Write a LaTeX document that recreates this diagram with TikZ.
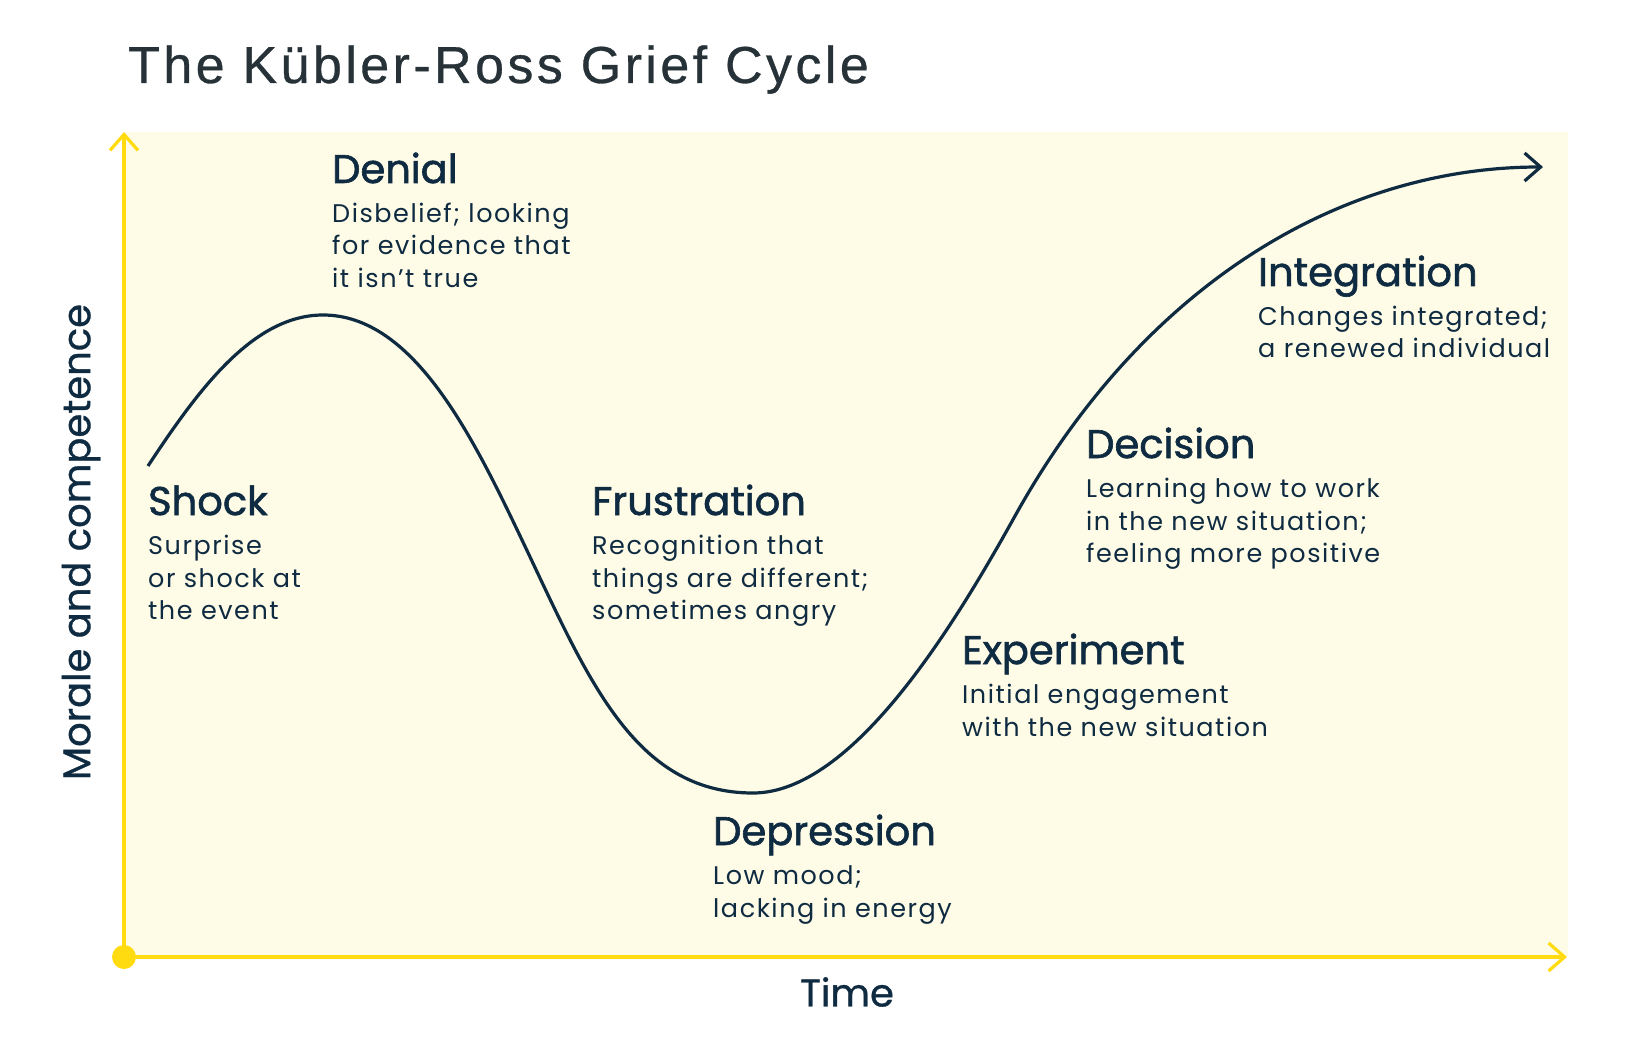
\documentclass[tikz,border=0pt]{standalone}
\usepackage{fontspec}
\usetikzlibrary{arrows.meta}
\setmainfont{Poppins}
\newfontfamily\titlefont[LetterSpace=6.6,FakeBold=0.6]{Liberation Sans}
\newfontfamily\headfont[FakeBold=1.5]{Poppins}
\newfontfamily\bodyfont[LetterSpace=6]{Poppins}
\newfontfamily\axisfont[FakeBold=0.8]{Poppins}
\definecolor{navy}{HTML}{0F2B41}
\definecolor{titlegray}{HTML}{263238}
\definecolor{axisyellow}{HTML}{FFDB0F}
\definecolor{bgcream}{HTML}{FEFBE7}
\begin{document}
\begin{tikzpicture}[x=1pt,y=-1pt,
  axisline/.style={draw=axisyellow, line width=3.2pt, -{Straight Barb[length=16pt,width=28pt]}},
  curveline/.style={draw=navy, line width=3.2pt, -{Straight Barb[length=16pt,width=28pt]}},
  stagehead/.style={anchor=base west, inner sep=0pt, text=navy, font=\headfont\fontsize{40}{42}\selectfont},
  stagebody/.style={anchor=base west, inner sep=0pt, text=navy, align=left, font=\bodyfont\fontsize{25.5}{32.5}\selectfont},
  axislabel/.style={inner sep=0pt, text=navy, font=\axisfont\fontsize{38.5}{40}\selectfont}]
\useasboundingbox (0,0) rectangle (1625,1056);
\fill[white] (0,0) rectangle (1625,1056);
\fill[bgcream] (124,132) rectangle (1568,957);
% title
\node[anchor=base west, inner sep=0pt, text=titlegray, font=\titlefont\fontsize{52}{52}\selectfont] (title) at (128,83) {The Kübler-Ross Grief Cycle};
% axes
\coordinate (O) at (124,957);
\coordinate (ytop) at (124,132);
\coordinate (xend) at (1567,957);
\draw[axisline] (O) -- (ytop);
\draw[axisline] (O) -- (xend);
\fill[axisyellow] (O) circle (12);
\node[axislabel, rotate=90] (ylab) at (81,542) {Morale and competence};
\node[axislabel] (xlab) at (847,992) {Time};
% curve
\draw[curveline] (148,466) .. controls (198,390) and (253,315) .. (323,315)
  .. controls (413,315) and (472,435) .. (522,540)
  .. controls (587,676.5) and (633,793) .. (753,793)
  .. controls (853,793) and (955,624) .. (1015,516)
  .. controls (1145,282) and (1343,167) .. (1543,167);
% stages (body nodes anchored at the baseline of their last line)
\node[stagehead] (shockH) at (148,515) {Shock};
\node[stagebody] (shockB) at (148,619.5) {Surprise\\or shock at\\the event};
\node[stagehead] (denialH) at (332,183) {Denial};
\node[stagebody] (denialB) at (332,287.5) {Disbelief; looking\\for evidence that\\it isn’t true};
\node[stagehead] (frustH) at (592,515) {Frustration};
\node[stagebody] (frustB) at (592,619.5) {Recognition that\\things are different;\\sometimes angry};
\node[stagehead] (depH) at (713,845) {Depression};
\node[stagebody] (depB) at (713,917) {Low mood;\\lacking in energy};
\node[stagehead] (expH) at (962,664) {Experiment};
\node[stagebody] (expB) at (962,736) {Initial engagement\\with the new situation};
\node[stagehead] (decH) at (1086,458) {Decision};
\node[stagebody] (decB) at (1086,562.5) {Learning how to work\\in the new situation;\\feeling more positive};
\node[stagehead] (intH) at (1258,286) {Integration};
\node[stagebody] (intB) at (1258,358) {Changes integrated;\\a renewed individual};
\end{tikzpicture}
\end{document}
